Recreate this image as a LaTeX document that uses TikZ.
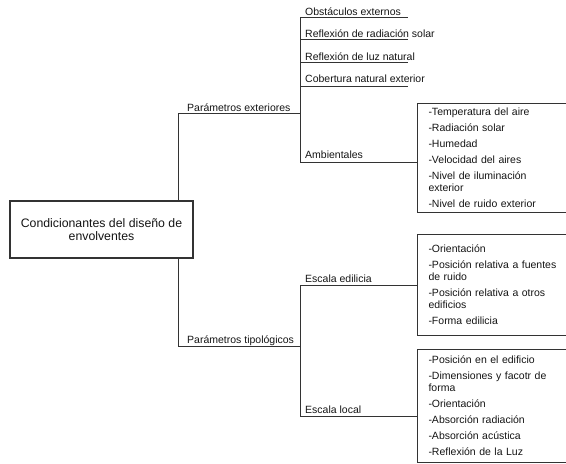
\documentclass[tikz,border=0pt]{standalone}
\usepackage{fontspec}
\setmainfont{Liberation Sans}
\definecolor{ln}{HTML}{333333}
\definecolor{tx}{HTML}{151515}
\begin{document}
\begin{tikzpicture}[x=1pt,y=-1pt,
  lbl/.style={font=\fontsize{10.5}{12}\selectfont, text=tx, inner sep=0pt, anchor=base west},
  conn/.style={draw=ln, line width=1pt},
  listbox/.style={draw=ln, line width=1pt, anchor=north west, align=left,
     font=\fontsize{10.5}{12}\selectfont, text=tx, text width=150pt,
     inner xsep=11pt, inner ysep=0pt, minimum width=172pt},
  mainbox/.style={draw=ln, line width=1.6pt, align=center, text=tx,
     font=\fontsize{12.3}{12.5}\selectfont, minimum width=183pt, minimum height=57pt, inner sep=0pt}
]
\useasboundingbox (0,0) rectangle (566,464);
\clip (0,0) rectangle (566,464);
\fill[white] (0,0) rectangle (566,464);

% main box
\node[mainbox] (main) at (101.5,229.5) {Condicionantes del diseño de\\envolventes};
\coordinate (tr) at (178,0);

% level 1
\coordinate (pe) at (300,113);
\coordinate (pt) at (300,346);
\node[lbl] (pelbl) at (187,111) {Parámetros exteriores};
\node[lbl] (ptlbl) at (187,343) {Parámetros tipológicos};
\draw[conn] (main.north -| tr) |- (pe);
\draw[conn] (main.south -| tr) |- (pt);

% exterior items
\coordinate (ue) at (408,0);
\coordinate (c1) at (300,17);
\coordinate (c2) at (300,39);
\coordinate (c3) at (300,62);
\coordinate (c4) at (300,86);
\coordinate (c5) at (300,162);
\node[lbl] (o1) at (305,15) {Obstáculos externos};
\node[lbl] (o2) at (305,37) {Reflexión de radiación solar};
\node[lbl] (o3) at (305,60) {Reflexión de luz natural};
\node[lbl] (o4) at (305,82) {Cobertura natural exterior};
\node[lbl] (o5) at (305,158) {Ambientales};
\draw[conn] (c1) -- (c5);
\draw[conn] (c1) -- (c1 -| ue);
\draw[conn] (c2) -- (c2 -| ue);
\draw[conn] (c3) -- (c3 -| ue);
\draw[conn] (c4) -- (c4 -| ue);

\node[listbox, minimum height=109pt] (amb) at (417,103) {-Temperatura del aire\\[4pt]
-Radiación solar\\[4pt]
-Humedad\\[4pt]
-Velocidad del aires\\[4pt]
-Nivel de iluminación\\exterior\\[4pt]
-Nivel de ruido exterior};
\draw[conn] (c5) -- (c5 -| amb.west);

% tipologic items
\coordinate (d1) at (300,285);
\coordinate (d2) at (300,416);
\node[lbl] (s1) at (305,282) {Escala edilicia};
\node[lbl] (s2) at (305,413) {Escala local};
\draw[conn] (d1) -- (d2);

\node[listbox, minimum height=101pt] (edi) at (417,234) {-Orientación\\[4pt]
-Posición relativa a fuentes\\de ruido\\[4pt]
-Posición relativa a otros\\edificios\\[4pt]
-Forma edilicia};
\node[listbox, minimum height=113pt] (loc) at (417,349) {-Posición en el edificio\\[4pt]
-Dimensiones y facotr de\\forma\\[4pt]
-Orientación\\[4pt]
-Absorción radiación\\[4pt]
-Absorción acústica\\[4pt]
-Reflexión de la Luz};
\draw[conn] (d1) -- (d1 -| edi.west);
\draw[conn] (d2) -- (d2 -| loc.west);
\end{tikzpicture}
\end{document}
